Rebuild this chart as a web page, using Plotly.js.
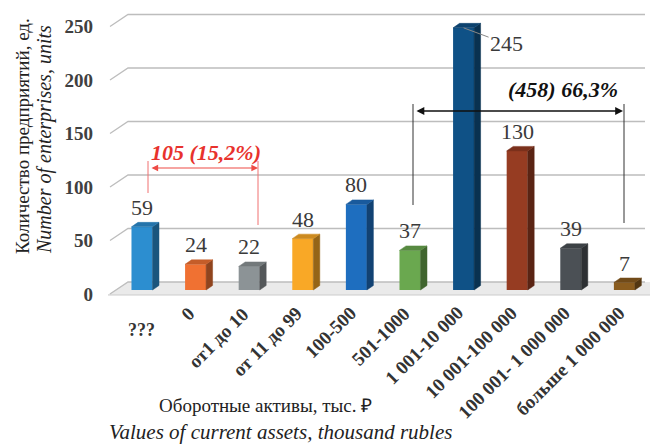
<!DOCTYPE html>
<html><head><meta charset="utf-8">
<script src="https://cdn.plot.ly/plotly-3.0.1.min.js"></script>
<style>body{margin:0;background:#fff}#chart{width:660px;height:446px}</style>
</head><body><div id="chart"></div>
<script>
// ---- data ----
const categories = ['???','0','от1 до 10','от 11 до 99','100-500','501-1000','1 001-10 000','10 001-100 000','100 001- 1 000 000','больше 1 000 000'];
const counts = [59, 24, 22, 48, 80, 37, 245, 130, 39, 7];
const yTicks = [0, 50, 100, 150, 200, 250];
const groupSmall = {text: '105 (15,2%)'};
const groupLarge = {text: '(458) 66,3%'};
const barColors = ['#2C8ED0','#F07132','#8C9396','#F9A826','#1E6EBF','#6AA84F','#0F5186','#963C22','#4B5055','#8A5C1E'];

// ---- geometry helpers (pixel <-> data for fixed ranges) ----
const L = 108, R = 652, T = 10, B = 296;
const PXX = 53.6, PXY = 1.07, Y0PX = 290;
const X0 = -0.634;
const xr = [X0, X0 + (R - L) / PXX];
const yr = [-(B - Y0PX) / PXY, (Y0PX - T) / PXY];
const X = px => X0 + (px - L) / PXX;
const Y = py => (Y0PX - py) / PXY;
const PX = px => (px - L) / (R - L);   // paper x
const PY = py => (B - py) / (B - T);   // paper y

function shade(hex, f) {
  const n = parseInt(hex.slice(1), 16);
  const r = Math.round(((n >> 16) & 255) * f), g = Math.round(((n >> 8) & 255) * f), b = Math.round((n & 255) * f);
  return 'rgb(' + r + ',' + g + ',' + b + ')';
}

const idx = categories.map((c, i) => i);
const W = 0.392, DX = 6.5 / PXX, DY = 4.5 / PXY;
const serif = 'Liberation Serif';

const traces = [{
  type: 'bar', x: idx, y: counts, width: W,
  marker: {color: barColors, line: {width: 0}}, hoverinfo: 'skip'
}];
counts.forEach((v, i) => {
  const xl = i - W / 2, xR = i + W / 2;
  traces.push({type: 'scatter', mode: 'lines', hoverinfo: 'skip', showlegend: false,
    x: [xR, xR + DX, xR + DX, xR, xR], y: [0, DY, v + DY, v, 0],
    fill: 'toself', fillcolor: shade(barColors[i], 0.6), line: {width: 0.5, color: shade(barColors[i], 0.6)}});
  traces.push({type: 'scatter', mode: 'lines', hoverinfo: 'skip', showlegend: false,
    x: [xl, xl + DX, xR + DX, xR, xl], y: [v, v + DY, v + DY, v, v],
    fill: 'toself', fillcolor: shade(barColors[i], 0.82), line: {width: 0.5, color: shade(barColors[i], 0.82)}});
});

const shapes = [];
// floor
shapes.push({type: 'path', layer: 'below', xref: 'x', yref: 'y',
  path: `M ${X(107)} ${Y(295)} L ${X(128)} ${Y(282)} L ${X(650)} ${Y(282)} L ${X(650)} ${Y(295)} Z`,
  fillcolor: '#EAEAEA', line: {width: 0}});
shapes.push({type: 'line', layer: 'below', xref: 'x', yref: 'y', x0: X(107), y0: Y(295), x1: X(650), y1: Y(295),
  line: {color: '#CCCCCC', width: 1}});
// gridlines on back wall
yTicks.forEach(v => {
  const f = Y0PX - v * PXY;
  shapes.push({type: 'path', layer: 'below', xref: 'x', yref: 'y',
    path: `M ${X(110)} ${Y(f + 4)} L ${X(128)} ${Y(f - 8)} L ${X(645)} ${Y(f - 8)}`,
    line: {color: '#BDBDBD', width: 1.3}});
});
// bracket verticals
const red = '#EE4B45';
shapes.push({type: 'line', xref: 'x', yref: 'y', x0: X(148), x1: X(148), y0: Y(161), y1: Y(193), line: {color: '#F07070', width: 1}});
shapes.push({type: 'line', xref: 'x', yref: 'y', x0: X(258), x1: X(258), y0: Y(161), y1: Y(225), line: {color: '#F07070', width: 1}});
shapes.push({type: 'line', xref: 'x', yref: 'y', x0: X(413), x1: X(413), y0: Y(104), y1: Y(205), line: {color: '#333', width: 1}});
shapes.push({type: 'line', xref: 'x', yref: 'y', x0: X(624), x1: X(624), y0: Y(104), y1: Y(223), line: {color: '#333', width: 1}});

const annotations = [];
// value labels
counts.forEach((v, i) => {
  if (i === 6) {
    annotations.push({x: i, y: v, xref: 'x', yref: 'y', text: String(v), showarrow: true, arrowhead: 0,
      arrowwidth: 1, arrowcolor: '#888', ax: 43, ay: 16, standoff: 0,
      font: {family: serif, size: 22, color: '#3a3a3a'}});
  } else {
    annotations.push({x: i, y: v, xref: 'x', yref: 'y', text: String(v), showarrow: false,
      yanchor: 'bottom', yshift: 5, font: {family: serif, size: 22, color: '#3a3a3a'}});
  }
});
// category labels
categories.forEach((c, i) => {
  if (i === 0) {
    annotations.push({x: i, y: PY(330), xref: 'x', yref: 'paper', text: c, showarrow: false,
      xanchor: 'center', yanchor: 'middle',
      font: {family: serif, size: 18, color: '#333', weight: 'bold'}});
  } else {
    annotations.push({x: i + 0.12, y: PY(300), xref: 'x', yref: 'paper', text: c, showarrow: false, textangle: -45,
      xanchor: 'right', yanchor: 'top', font: {family: serif, size: 19, color: '#333', weight: 'bold'}});
  }
});
// double arrows
annotations.push({x: X(258), y: Y(168), ax: X(150), ay: Y(168), axref: 'x', ayref: 'y', xref: 'x', yref: 'y',
  text: '', showarrow: true, arrowside: 'end+start', arrowhead: 2, arrowsize: 1.1, arrowwidth: 1.2, arrowcolor: red});
annotations.push({x: X(623), y: Y(111), ax: X(415), ay: Y(111), axref: 'x', ayref: 'y', xref: 'x', yref: 'y',
  text: '', showarrow: true, arrowside: 'end+start', arrowhead: 2, arrowsize: 1.2, arrowwidth: 1.3, arrowcolor: '#111'});
annotations.push({x: X(206), y: Y(152), xref: 'x', yref: 'y', text: '<i>' + groupSmall.text + '</i>', showarrow: false,
  font: {family: serif, size: 22, color: '#E8322D', weight: 'bold'}});
annotations.push({x: X(563), y: Y(89), xref: 'x', yref: 'y', text: '<i>' + groupLarge.text + '</i>', showarrow: false,
  font: {family: serif, size: 22, color: '#111', weight: 'bold'}});
// axis titles
const ttl = (x, y, text, angle, size) => ({xref: 'paper', yref: 'paper', x: PX(x), y: PY(y), text: text, textangle: angle,
  xanchor: 'center', yanchor: 'middle', showarrow: false, font: {family: serif, size: size, color: '#222'}});
annotations.push(ttl(22, 136, 'Количество предприятий, ед.', -90, 19));
annotations.push(ttl(44, 140, '<i>Number of enterprises, units</i>', -90, 20));
annotations.push(ttl(265, 405, 'Оборотные активы, тыс. ₽', 0, 19));
annotations.push(ttl(280, 432, '<i>Values of current assets, thousand rubles</i>', 0, 21));

const layout = {
  width: 660, height: 446, margin: {l: L, r: 660 - R, t: T, b: 446 - B},
  paper_bgcolor: '#fff', plot_bgcolor: 'rgba(0,0,0,0)', showlegend: false,
  xaxis: {range: xr, showgrid: false, zeroline: false, showticklabels: false, showline: false, fixedrange: true},
  yaxis: {range: yr, tickvals: yTicks, showgrid: false, zeroline: false, showline: false, ticks: '',
    ticklabelshift: 4, ticklabelstandoff: 14,
    tickfont: {family: serif, size: 19, color: '#404040', weight: 'bold'}, fixedrange: true},
  shapes: shapes, annotations: annotations
};
Plotly.newPlot('chart', traces, layout, {displayModeBar: false, staticPlot: true});
</script></body></html>
